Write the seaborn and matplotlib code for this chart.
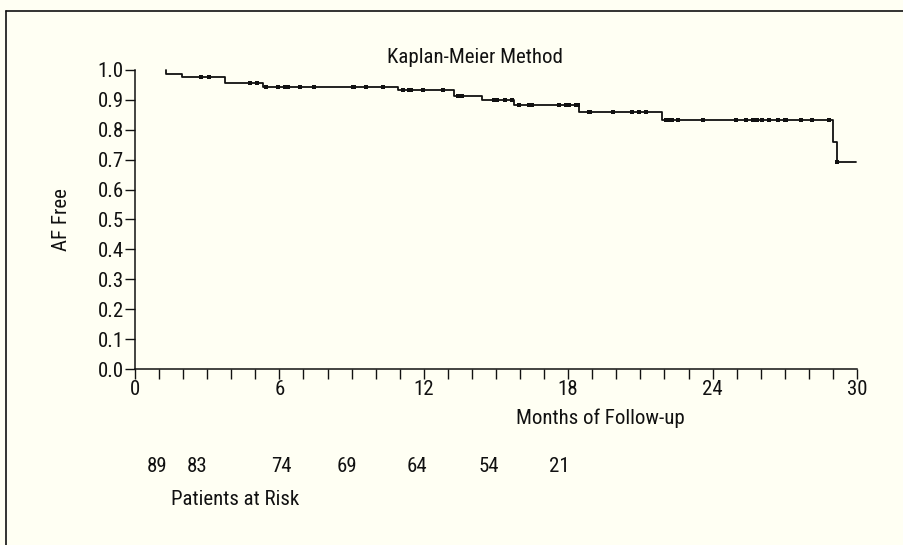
import numpy as np
import pandas as pd
import matplotlib
matplotlib.use("Agg")
import matplotlib.pyplot as plt
import seaborn as sns
from matplotlib.lines import Line2D
from matplotlib.ticker import MultipleLocator

# Kaplan-Meier step curve (months, survival after step)
start_time = 1.29
end_time = 29.95
event_times = [1.29, 1.94, 3.74, 5.33, 10.92, 13.25, 14.40, 15.75, 18.45, 21.90, 29.00, 29.15]
surv_after = [0.987, 0.977, 0.955, 0.942, 0.932, 0.912, 0.900, 0.883, 0.859, 0.833, 0.760, 0.693]

# censored observations (months)
censor_times = [2.73, 3.09, 4.78, 5.07, 5.44, 5.93, 6.23, 6.34, 6.86, 7.45,
                9.04, 9.12, 9.60, 10.32, 11.15, 11.40, 11.45, 11.98, 12.78,
                13.41, 13.60, 14.92, 15.03, 15.37, 15.65, 15.97, 16.38, 16.48,
                17.63, 17.91, 18.04, 18.32, 18.42, 18.86, 18.90, 19.85, 20.64,
                20.95, 21.23, 22.06, 22.11, 22.20, 22.30, 22.57, 23.59, 24.97,
                25.38, 25.66, 25.73, 25.83, 26.04, 26.35, 26.73, 27.00, 27.05,
                27.66, 28.11, 28.85, 29.15]

at_risk = ["89", "83", "74", "69", "64", "54", "21"]
at_risk_pos = [0.9, 2.6, 6.07, 8.8, 11.7, 14.7, 17.65]

curve = pd.DataFrame({
    "month": [start_time] + event_times + [end_time],
    "surv": [1.0] + surv_after + [surv_after[-1]],
})
idx = np.searchsorted(curve["month"].values, censor_times, side="right") - 1
cens = pd.DataFrame({"month": censor_times, "surv": curve["surv"].values[idx]})

bg = "#fffff3"
ink = "#111111"
sns.set_style("ticks")
plt.rcParams["font.family"] = ["Liberation Sans Narrow", "Roboto Condensed",
                               "Liberation Sans", "DejaVu Sans"]
fs = 15

fig = plt.figure(figsize=(9.04, 5.45), dpi=100, facecolor=bg)
ax = fig.add_axes([0.1493, 0.3229, 0.7987, 0.5487])
ax.set_facecolor(bg)

sns.lineplot(data=curve, x="month", y="surv", drawstyle="steps-post", sort=False,
             estimator=None, color=ink, linewidth=1.3, ax=ax, clip_on=False)
sns.scatterplot(data=cens, x="month", y="surv", marker="s", s=10, color=ink,
                edgecolor=ink, linewidth=0, ax=ax, clip_on=False, zorder=3)

ax.set_xlim(0, 30)
ax.set_ylim(0, 1.0)
ax.xaxis.set_major_locator(MultipleLocator(6))
ax.xaxis.set_minor_locator(MultipleLocator(1))
ax.set_yticks(np.round(np.arange(0, 1.01, 0.1), 1))
ax.set_yticklabels([f"{v:.1f}" for v in ax.get_yticks()])
ax.tick_params(which="both", length=7, width=1, color=ink, labelsize=fs,
               labelcolor=ink, pad=1)
for s in ["top", "right"]:
    ax.spines[s].set_visible(False)
for s in ["left", "bottom"]:
    ax.spines[s].set_color(ink)
    ax.spines[s].set_linewidth(1.1)

ax.set_xlabel("")
ax.set_ylabel("AF Free", fontsize=fs, color=ink)
ax.yaxis.set_label_coords(-0.088, 0.5)
ax.text(0.471, 1.042, "Kaplan-Meier Method", transform=ax.transAxes,
        ha="center", va="center", fontsize=fs, color=ink)

ax.text(0.645, -0.165, "Months of Follow-up", transform=ax.transAxes,
        ha="center", va="center", fontsize=fs, color=ink)
trans = ax.get_xaxis_transform()
for lab, pos in zip(at_risk, at_risk_pos):
    ax.text(pos, -0.325, lab, transform=trans, ha="center", va="center",
            fontsize=fs, color=ink)
ax.text(0.26, 0.083, "Patients at Risk", transform=fig.transFigure,
        ha="center", va="center", fontsize=fs, color=ink)

# outer frame (top and left edges)
fig.add_artist(Line2D([0.0066, 1.0], [0.9798, 0.9798], transform=fig.transFigure,
                      color=ink, linewidth=1.2))
fig.add_artist(Line2D([0.0066, 0.0066], [0.0, 0.9798], transform=fig.transFigure,
                      color=ink, linewidth=1.2))

fig.savefig("out.png", dpi=100, facecolor=bg)
